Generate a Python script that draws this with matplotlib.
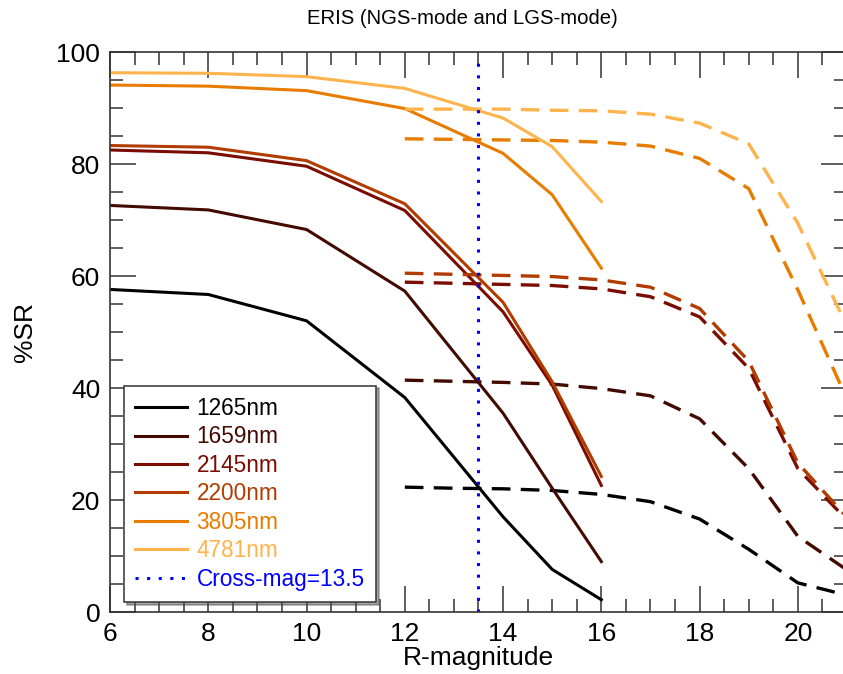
import numpy as np
import matplotlib
matplotlib.use("Agg")
import matplotlib.pyplot as plt
from matplotlib.ticker import MultipleLocator

plt.rcParams['font.family'] = ['Liberation Sans', 'DejaVu Sans']

# NGS-mode (solid) and LGS-mode (dashed) Strehl ratio vs R magnitude
ngs_mag = [6, 8, 10, 12, 14, 15, 16]
lgs_mag = [12, 13, 14, 15, 16, 17, 18, 19, 20, 21]

wavelengths = ['1265nm', '1659nm', '2145nm', '2200nm', '3805nm', '4781nm']
colors = ['#000000', '#420a00', '#7a0c00', '#b23c00', '#e87c00', '#ffb34c']

ngs_sr = [
    [57.6, 56.7, 52.0, 38.3, 17.0, 7.6, 2.2],
    [72.6, 71.8, 68.3, 57.3, 35.5, 22.1, 9.0],
    [82.5, 82.0, 79.6, 71.7, 53.6, 40.5, 22.6],
    [83.3, 83.0, 80.6, 72.9, 55.3, 41.1, 24.2],
    [94.1, 93.9, 93.1, 89.9, 81.9, 74.5, 61.4],
    [96.3, 96.2, 95.6, 93.5, 88.2, 83.1, 73.3],
]
lgs_sr = [
    [22.3, 22.1, 22.0, 21.7, 21.0, 19.7, 16.6, 11.2, 5.2, 3.0],
    [41.4, 41.2, 41.0, 40.7, 39.9, 38.6, 34.5, 25.6, 13.5, 7.5],
    [58.9, 58.7, 58.5, 58.3, 57.7, 56.3, 52.7, 43.5, 25.6, 16.4],
    [60.5, 60.3, 60.1, 59.9, 59.3, 58.0, 54.2, 44.8, 26.6, 16.9],
    [84.5, 84.4, 84.3, 84.2, 83.9, 83.2, 81.0, 75.6, 57.5, 38.0],
    [89.8, 89.8, 89.8, 89.6, 89.5, 88.9, 87.3, 83.6, 69.4, 51.0],
]
cross_mag = 13.5

fig = plt.figure(figsize=(8.43, 6.74), dpi=100)
ax = fig.add_axes([110/843, 1 - 612/674, 737/843, 560/674])

for i in range(len(wavelengths)):
    ax.plot(ngs_mag, ngs_sr[i], color=colors[i], lw=2.2, label=wavelengths[i])
    ax.plot(lgs_mag, lgs_sr[i], color=colors[i], lw=2.4, dashes=(5.6, 3.1))

ax.plot([cross_mag, cross_mag], [0, 98.5], color='blue', lw=2.2,
        dashes=(1, 2.8), label='Cross-mag=13.5')

ax.set_xlim(6, 21)
ax.set_ylim(0, 100)
ax.xaxis.set_major_locator(MultipleLocator(2))
ax.xaxis.set_minor_locator(MultipleLocator(0.5))
ax.yaxis.set_major_locator(MultipleLocator(20))
ax.yaxis.set_minor_locator(MultipleLocator(5))
ax.tick_params(which='both', direction='in', top=True, right=True, color='#333333', width=1.1)
ax.tick_params(which='major', length=19, labelsize=19)
ax.tick_params(which='minor', length=9.5)
ax.tick_params(axis='x', pad=7)
ax.tick_params(axis='y', pad=7)
for s in ax.spines.values():
    s.set_color('#333333')
    s.set_linewidth(1.2)

ax.set_xlabel('R-magnitude', fontsize=19, labelpad=0)
ax.set_ylabel('%SR', fontsize=19, labelpad=14)
fig.text(462/843, 1 - 18/674, 'ERIS (NGS-mode and LGS-mode)', fontsize=14.6,
         ha='center', va='center')

leg = ax.legend(loc='lower left', bbox_to_anchor=(0.019, 0.018), borderaxespad=0,
                fontsize=16.3, labelcolor='linecolor', handlelength=2.3,
                handletextpad=0.4, labelspacing=0.24, borderpad=0.5,
                fancybox=False, shadow=True, framealpha=1, edgecolor='#333333')
leg.get_frame().set_linewidth(1.1)

fig.savefig('out.png', dpi=100)
